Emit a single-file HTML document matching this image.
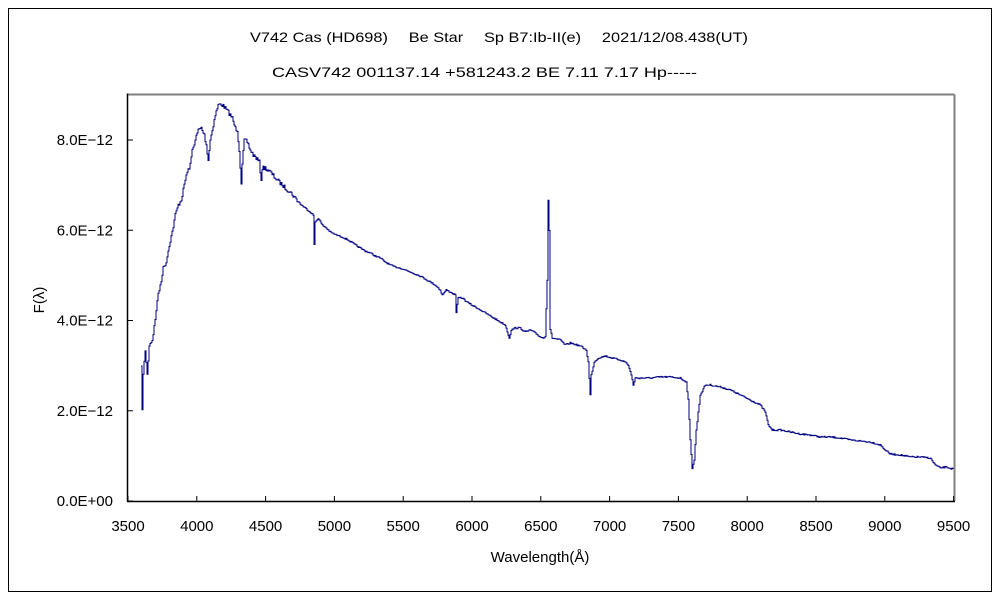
<!DOCTYPE html>
<html><head><meta charset="utf-8"><style>
body{margin:0;background:#fff;}
svg{display:block;font-family:"Liberation Sans","Noto Sans CJK JP",sans-serif;}
</style></head><body>
<svg id="s" width="1000" height="600" viewBox="0 0 1000 600">
<rect x="0" y="0" width="1000" height="600" fill="#fff"/>
<rect x="8.5" y="8.5" width="983" height="583" fill="none" stroke="#000" stroke-width="1"/>
<text x="250" y="42" font-size="14" textLength="498" lengthAdjust="spacingAndGlyphs" fill="#000">V742 Cas (HD698)　 Be Star　 Sp B7:Ib-II(e)　 2021/12/08.438(UT)</text>
<text x="272" y="77" font-size="14" textLength="425" lengthAdjust="spacingAndGlyphs" fill="#000">CASV742 001137.14 +581243.2 BE 7.11 7.17 Hp-----</text>
<line x1="127.5" y1="94.5" x2="954.5" y2="94.5" stroke="#808080" stroke-width="2"/>
<line x1="954.5" y1="94.5" x2="954.5" y2="501" stroke="#808080" stroke-width="2"/>
<line x1="127.5" y1="93.5" x2="127.5" y2="501.5" stroke="#000" stroke-width="1.5"/>
<line x1="127" y1="501.5" x2="955" y2="501.5" stroke="#000" stroke-width="1.5"/>
<g id="ticks" stroke="#000" stroke-width="1"></g>
<g id="lab" font-size="15" fill="#000"></g>
<text x="44" y="300" font-size="15" text-anchor="middle" transform="rotate(-90 44 300)">F(λ)</text>
<text x="540" y="562" font-size="15" text-anchor="middle">Wavelength(Å)</text>
<polyline id="sp" fill="none" stroke="#000080" stroke-width="1" points=""/>
</svg>
<script>
var ns="http://www.w3.org/2000/svg";
var t=document.getElementById('ticks'),l=document.getElementById('lab');
function el(p,n,a,txt){var e=document.createElementNS(ns,n);for(var k in a)e.setAttribute(k,a[k]);if(txt)e.textContent=txt;p.appendChild(e);}
for(var i=0;i<=12;i++){var x=128+i*68.8;el(t,'line',{x1:x,y1:501,x2:x,y2:496});el(l,'text',{x:x,y:531,'text-anchor':'middle'},String(3500+i*500));}
var yl=['0.0E+00','2.0E-12','4.0E-12','6.0E-12','8.0E-12'];
for(var j=0;j<5;j++){var y=501-j*90.25;el(t,'line',{x1:127,y1:y,x2:133,y2:y});el(l,'text',{x:113,y:y+5,'text-anchor':'end'},yl[j].replace('-','−'));}
var P=[141,368,142,408,143,375,145,350,147,375,149,345,152,340,155,320,157,300,159,290,161,280,163,268,166,262,169,245,172,232,175,215,178,205,181,200,184,185,186,175,188,170,190,165,192,150,195,140,198,130,201,128,204,135,206,145,208,160,210,140,212,130,215,115,218,105,221,104,224,107,228,112,232,118,235,128,237,130,239,150,241,183,242,165,244,140,247,142,250,150,253,155,256,158,259,162,261,180,262,168,265,168,270,172,275,178,280,183,285,188,290,192,295,198,300,204,305,208,310,212,313,215,314,245,315,222,318,218,322,225,326,228,330,232,336,235,342,237,348,240,355,245,360,248,365,251,370,253,375,256,380,258,385,262,390,265,395,267,400,268,405,270,410,272,415,274,420,276,425,279,430,282,435,285,440,290,442,295,446,290,450,292,455,295,456,312,458,298,462,298,468,303,475,307,482,311,490,316,495,319,500,322,505,325,509,338,511,330,515,328,520,328,525,332,530,330,535,333,540,337,543,338,545,336,547,280,548,200,549,230,550,330,552,338,560,340,565,345,570,343,580,346,586,350,588,362,590,395,591,375,594,362,598,358,605,356,612,358,620,360,625,362,628,365,631,375,633,385,635,378,640,378,650,378,660,377,670,377,680,378,686,382,688,400,690,440,692,468,694,460,696,430,700,395,705,385,710,385,720,387,730,390,740,395,750,400,760,405,765,412,768,425,772,430,780,430,790,432,800,434,810,435,820,437,830,437,840,438,850,440,860,441,870,442,880,445,885,450,890,454,900,455,910,457,920,457,930,458,935,465,940,468,945,467,953,469];
var seed=7;function r(){seed=(seed*16807)%2147483647;return seed/2147483647-0.5;}
var pts=[];
for(var k=0;k<P.length-2;k+=2){var x0=P[k],y0=P[k+1],x1=P[k+2],y1=P[k+3];
 var n=Math.max(1,Math.round(x1-x0));
 for(var m=0;m<n;m++){var x=x0+(x1-x0)*m/n,y=y0+(y1-y0)*m/n;var a=(x<300?4:1.5);y+=r()*a;pts.push(x.toFixed(1)+','+y.toFixed(1));pts.push((x+ (x1-x0)/n).toFixed(1)+','+y.toFixed(1));}}
pts.push(P[P.length-2]+','+P[P.length-1]);
document.getElementById('sp').setAttribute('points',pts.join(' '));
</script>
</body></html>
